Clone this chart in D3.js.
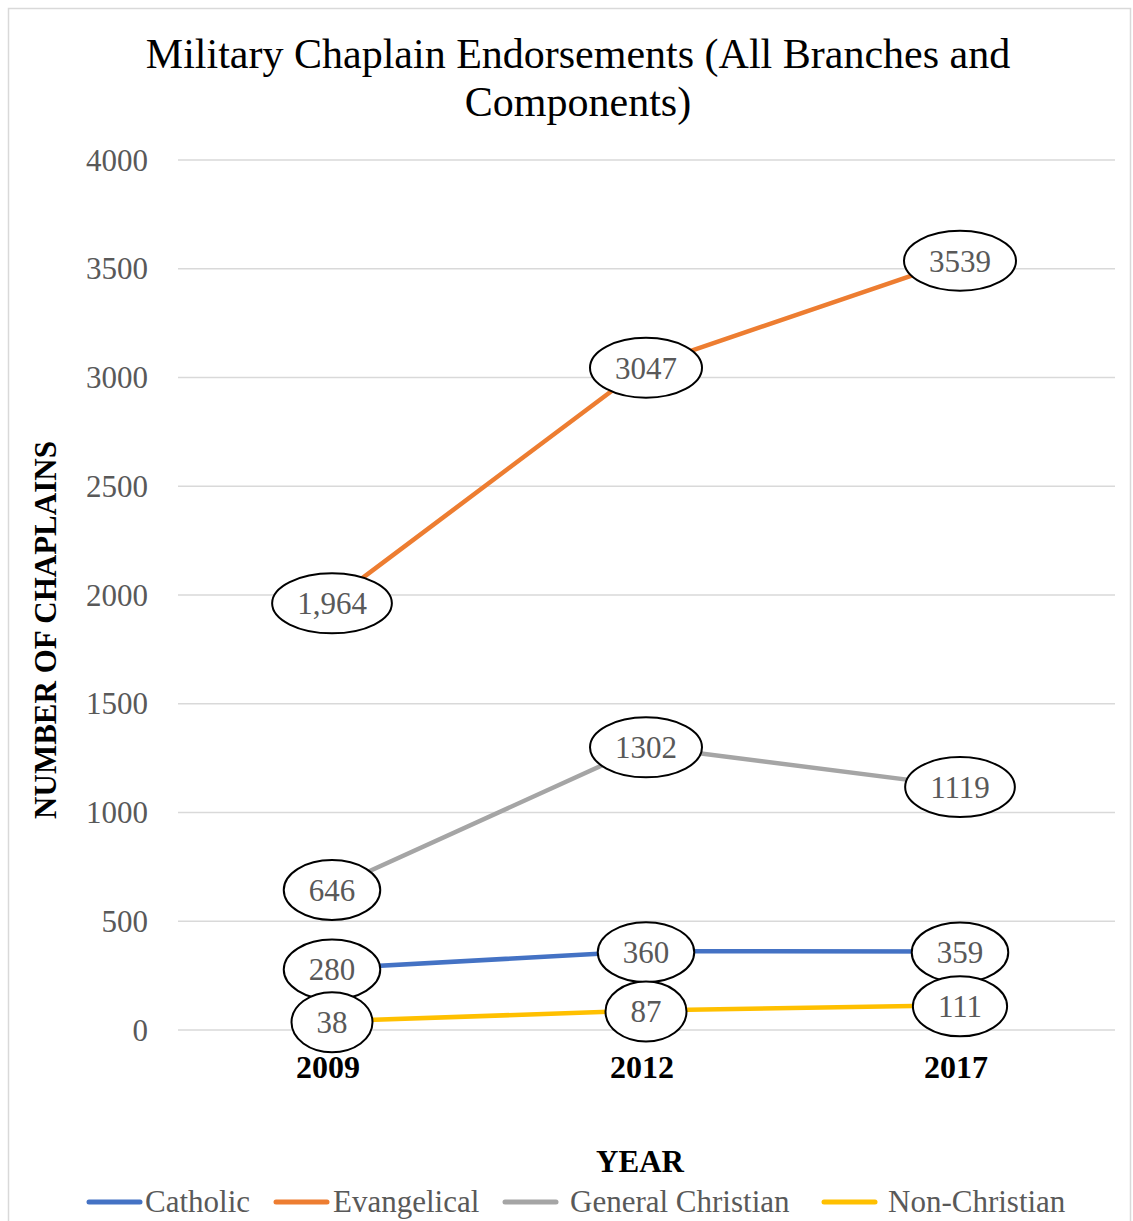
<!DOCTYPE html>
<html><head><meta charset="utf-8">
<script src="https://cdn.jsdelivr.net/npm/d3@7"></script>
<style>body{margin:0;background:#fff}svg{display:block}</style>
</head><body>
<svg id="c" width="1133" height="1221"></svg>
<script>
const years = ["2009", "2012", "2017"];
const seriesNames = ["Catholic", "Evangelical", "General Christian", "Non-Christian"];
const catholic = [280, 360, 359];
const evangelical = [1964, 3047, 3539];
const generalChristian = [646, 1302, 1119];
const nonChristian = [38, 87, 111];
const labelText = [["280","360","359"],["1,964","3047","3539"],["646","1302","1119"],["38","87","111"]];
const yTicks = [0, 500, 1000, 1500, 2000, 2500, 3000, 3500, 4000];
const colors = ["#4472C4", "#ED7D31", "#A5A5A5", "#FFC000"];
const allSeries = [catholic, evangelical, generalChristian, nonChristian];

const font = "'Liberation Serif','Times New Roman',serif";
const svg = d3.select("#c");

svg.append("rect").attr("x", 8.5).attr("y", 8.5).attr("width", 1122).attr("height", 1230)
  .attr("fill", "#fff").attr("stroke", "#d9d9d9").attr("stroke-width", 1.5);

const x = d3.scaleBand().domain(years).range([173, 1115]);
const y = d3.scaleLinear().domain([0, 4000]).range([1029.5, 159.5]);
const cx = d => x(d) + x.bandwidth() / 2;

// title
const title = svg.append("text").attr("text-anchor", "middle").attr("font-family", font)
  .attr("font-size", 42).attr("fill", "#000");
title.append("tspan").attr("x", 578).attr("y", 68).text("Military Chaplain Endorsements (All Branches and");
title.append("tspan").attr("x", 578).attr("y", 116).text("Components)");

// grid + y ticks
const yAxis = d3.axisLeft(y).tickValues(yTicks).tickSize(-(1115 - 178)).tickPadding(30).tickFormat(d3.format("d"));
const ga = svg.append("g").attr("transform", "translate(178,0)").call(yAxis);
ga.select(".domain").remove();
ga.selectAll(".tick line").attr("stroke", "#d9d9d9").attr("stroke-width", 1.5);
ga.selectAll(".tick text").attr("font-family", font).attr("font-size", 31).attr("fill", "#595959")
  .attr("dy", "0.34em");

// x labels
const xAxis = d3.axisBottom(x).tickSize(0).tickPadding(0);
const gx = svg.append("g").attr("transform", "translate(-2,1054)").call(xAxis);
gx.select(".domain").remove();
gx.selectAll(".tick text").attr("font-family", font).attr("font-size", 32).attr("font-weight", "bold")
  .attr("fill", "#000").attr("dy", "0.76em");

// axis titles
svg.append("text").attr("x", 640).attr("y", 1172).attr("text-anchor", "middle").attr("font-family", font)
  .attr("font-size", 31).attr("font-weight", "bold").text("YEAR");
svg.append("text").attr("transform", "translate(56,630) rotate(-90)").attr("text-anchor", "middle")
  .attr("font-family", font).attr("font-size", 31).attr("font-weight", "bold").text("NUMBER OF CHAPLAINS");

// lines
const line = d3.line().x((d, i) => cx(years[i])).y(d => y(d));
allSeries.forEach((s, k) => {
  svg.append("path").datum(s).attr("d", line).attr("fill", "none")
    .attr("stroke", colors[k]).attr("stroke-width", 4.5).attr("stroke-linejoin", "round");
});

// labels
allSeries.forEach((s, k) => {
  s.forEach((v, i) => {
    const g = svg.append("g").attr("transform", `translate(${cx(years[i]) + 2},${y(v) + 1})`);
    const el = g.append("ellipse").attr("fill", "#fff").attr("stroke", "#000").attr("stroke-width", 2);
    const t = g.append("text").attr("text-anchor", "middle").attr("dy", "0.35em").attr("font-family", font)
      .attr("font-size", 31).attr("fill", "#595959").text(labelText[k][i]);
    const w = t.node().getComputedTextLength();
    el.attr("rx", w / 2 + 25).attr("ry", 30);
  });
});

// legend
const legX = [87, 274, 503, 822];
const legTextX = [145, 333, 570, 888];
seriesNames.forEach((n, k) => {
  svg.append("line").attr("x1", legX[k] + 2).attr("x2", legX[k] + 53).attr("y1", 1202).attr("y2", 1202)
    .attr("stroke", colors[k]).attr("stroke-width", 5).attr("stroke-linecap", "round");
  svg.append("text").attr("x", legTextX[k]).attr("y", 1212).attr("font-family", font).attr("font-size", 31)
    .attr("fill", "#595959").text(n);
});
</script>
</body></html>
